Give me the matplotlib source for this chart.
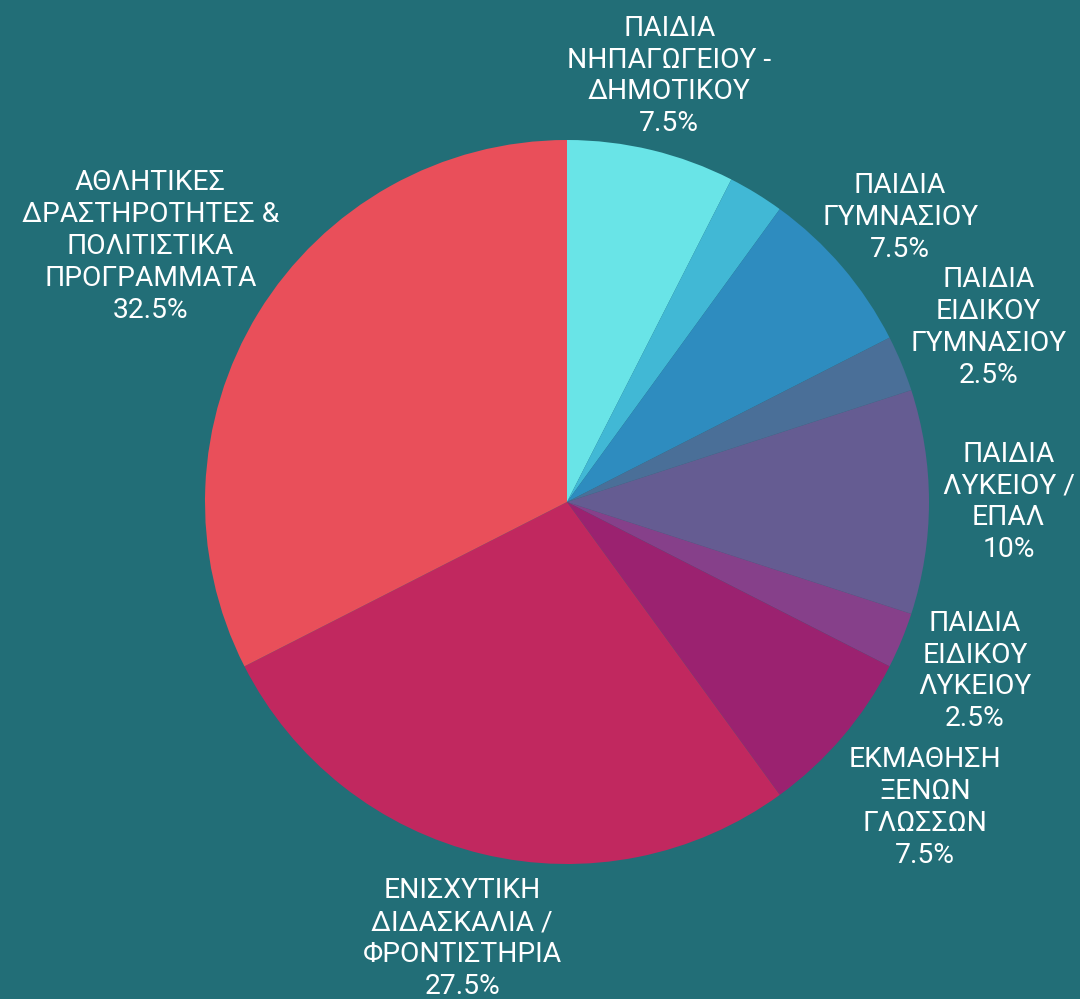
import numpy as np
import matplotlib
matplotlib.use('Agg')
import matplotlib.pyplot as plt

# Data (clockwise from 12 o'clock)
labels = [
    'ΠΑΙΔΙΑ\nΝΗΠΑΓΩΓΕΙΟΥ -\nΔΗΜΟΤΙΚΟΥ',
    '',  # small slice with no visible label
    'ΠΑΙΔΙΑ\nΓΥΜΝΑΣΙΟΥ',
    'ΠΑΙΔΙΑ\nΕΙΔΙΚΟΥ\nΓΥΜΝΑΣΙΟΥ',
    'ΠΑΙΔΙΑ\nΛΥΚΕΙΟΥ /\nΕΠΑΛ',
    'ΠΑΙΔΙΑ\nΕΙΔΙΚΟΥ\nΛΥΚΕΙΟΥ',
    'ΕΚΜΑΘΗΣΗ\nΞΕΝΩΝ\nΓΛΩΣΣΩΝ',
    'ΕΝΙΣΧΥΤΙΚΗ\nΔΙΔΑΣΚΑΛΙΑ /\nΦΡΟΝΤΙΣΤΗΡΙΑ',
    'ΑΘΛΗΤΙΚΕΣ\nΔΡΑΣΤΗΡΟΤΗΤΕΣ &\nΠΟΛΙΤΙΣΤΙΚΑ\nΠΡΟΓΡΑΜΜΑΤΑ',
]
values = [7.5, 2.5, 7.5, 2.5, 10, 2.5, 7.5, 27.5, 32.5]
pct_labels = ['7.5%', '', '7.5%', '2.5%', '10%', '2.5%', '7.5%', '27.5%', '32.5%']
colors = ['#69e4e7', '#41b8d5', '#2e8cbf', '#4a6f98', '#655c92',
          '#86408a', '#9b2270', '#c1285f', '#e94f5a']

# label distance from centre (in pie radii)
label_r = [1.21, 1.21, 1.21, 1.26, 1.22, 1.22, 1.30, 1.24, 1.35]

bg = '#226e77'
R = 362

fig = plt.figure(figsize=(10.8, 9.99), dpi=100, facecolor=bg)
ax = fig.add_axes([0, 0, 1, 1])
ax.set_facecolor(bg)

ax.pie(values, colors=colors, radius=R, startangle=90, counterclock=False,
       wedgeprops=dict(linewidth=0.5, edgecolor='none'))

ax.set_xlim(-567, 513)
ax.set_ylim(-497, 502)
ax.set_aspect('equal')
ax.axis('off')

total = sum(values)
cum = 0
for lab, v, p, rr in zip(labels, values, pct_labels, label_r):
    mid = (cum + v / 2) / total * 2 * np.pi
    cum += v
    if not lab:
        continue
    x = R * rr * np.sin(mid)
    y = R * rr * np.cos(mid)
    ax.text(x, y, lab + '\n' + p, ha='center', va='center', multialignment='center',
            color='white', fontsize=20.3, family='Roboto', linespacing=1.23)

fig.savefig('out.png', dpi=100, facecolor=bg)
